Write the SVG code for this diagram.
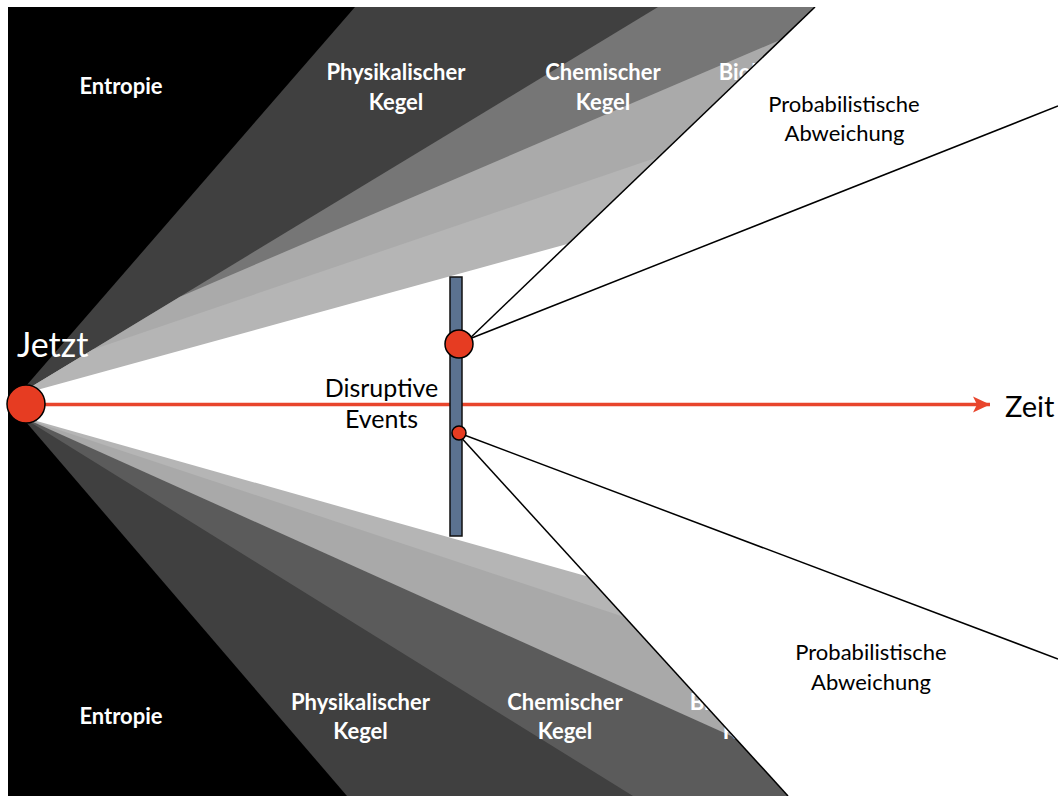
<svg xmlns="http://www.w3.org/2000/svg" width="1058" height="796" viewBox="0 0 1058 796">
<defs>
<clipPath id="frame"><rect x="8" y="7" width="1050" height="789"/></clipPath>
<marker id="arrow" markerUnits="userSpaceOnUse" markerWidth="20" markerHeight="18" viewBox="0 0 20 18" refX="17" refY="9" orient="auto">
<path d="M0,1 L17,9 L0,17 L4,9 Z" fill="#e8452c"/>
</marker>
<style>
.lw{font-family:Lato,"Open Sans","Liberation Sans",sans-serif;font-size:22px;font-weight:700;fill:#fff;text-anchor:middle}
.lb{font-family:Lato,"Open Sans","Liberation Sans",sans-serif;font-size:22px;fill:#000;text-anchor:middle}
.conn{stroke:#000;stroke-width:1.5;fill:none}
.ev{fill:#e63c22;stroke:#000;stroke-width:1.5}
</style>
</defs>
<rect width="1058" height="796" fill="#fff"/>
<g id="cones" clip-path="url(#frame)">
<rect x="8" y="7" width="1050" height="789" fill="#000"/>
<path d="M26,404 L26,386 L355,7 L1058,7 L1058,404 Z" fill="#404040"/>
<path d="M26,404 L26,390 L658,7 L1058,7 L1058,404 Z" fill="#767676"/>
<path d="M26,404 L26,390 L180,296.7 L773,43 L1058,-80 L1058,404 Z" fill="#aaaaaa"/>
<path d="M26,404 L26,390 L93,349.4 L1058,21 L1058,404 Z" fill="#b5b5b5"/>
<path d="M26,404 L26,422 L347,796 L1058,796 L1058,404 Z" fill="#404040"/>
<path d="M26,404 L26,419.5 L633,796 L1058,796 L1058,404 Z" fill="#5b5b5b"/>
<path d="M26,404 L26,418.7 L1058,883 L1058,404 Z" fill="#a9a9a9"/>
<path d="M26,404 L26,419 L1058,760.6 L1058,404 Z" fill="#b5b5b5"/>
<path d="M26,404 L26,393 L600,235 L600,580 L26,418 Z" fill="#fff"/>
</g>
<g id="cone-labels">
<text class="lw" x="121" y="94">Entropie</text>
<text class="lw" x="396" y="80">Physikalischer</text>
<text class="lw" x="396" y="110">Kegel</text>
<text class="lw" x="603" y="80">Chemischer</text>
<text class="lw" x="603" y="110">Kegel</text>
<text class="lw" x="779" y="80">Biologischer</text>
<text class="lw" x="121" y="724">Entropie</text>
<text class="lw" x="360.5" y="710">Physikalischer</text>
<text class="lw" x="360.5" y="739">Kegel</text>
<text class="lw" x="565" y="710">Chemischer</text>
<text class="lw" x="565" y="739">Kegel</text>
<text class="lw" x="750" y="710">Biologischer</text>
<text class="lw" x="750" y="739">Kegel</text>
</g>
<g id="deviation" clip-path="url(#frame)">
<path d="M465,343 L815,7 L1058,7 L1058,796 L788,796 L457,433 Z" fill="#fff"/>
</g>
<g id="connectors" clip-path="url(#frame)">
<line x1="45" y1="404.5" x2="990" y2="404.5" stroke="#e8452c" stroke-width="3.5" marker-end="url(#arrow)"/>
<line class="conn" x1="465" y1="343" x2="815" y2="7"/>
<line class="conn" x1="459" y1="343" x2="1058" y2="106"/>
<line class="conn" x1="457" y1="433" x2="788" y2="796"/>
<line class="conn" x1="459" y1="433" x2="1058" y2="659"/>
</g>
<g id="disruptive-events">
<rect x="450" y="277" width="12" height="259" fill="#5b7290" stroke="#111" stroke-width="1.5"/>
<text class="lb" x="381.5" y="397" style="font-size:25px">Disruptive</text>
<text class="lb" x="381.5" y="428" style="font-size:25px">Events</text>
</g>
<g id="event-major"><circle class="ev" cx="459" cy="344" r="14"/></g>
<g id="event-minor"><circle class="ev" cx="459" cy="433" r="7"/></g>
<g id="jetzt">
<circle class="ev" cx="26" cy="404" r="19"/>
<text x="17" y="357" style="font-family:Lato,'Open Sans',sans-serif;font-size:34px;fill:#fff">Jetzt</text>
</g>
<g id="zeit">
<text x="1005" y="417" style="font-family:Lato,'Open Sans',sans-serif;font-size:29px;fill:#000">Zeit</text>
</g>
<g id="prob-top">
<text class="lb" x="844" y="112">Probabilistische</text>
<text class="lb" x="844.5" y="141">Abweichung</text>
</g>
<g id="prob-bottom">
<text class="lb" x="871" y="660">Probabilistische</text>
<text class="lb" x="871" y="690">Abweichung</text>
</g>
</svg>
